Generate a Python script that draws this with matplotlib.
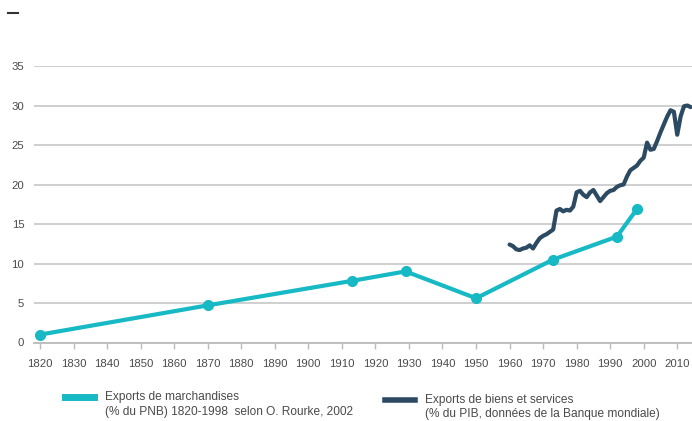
import matplotlib.pyplot as plt
from matplotlib.lines import Line2D

plt.rcParams['font.family'] = ['Liberation Sans Narrow', 'Liberation Sans', 'DejaVu Sans']

# Exports de marchandises (% du PNB), O'Rourke
years_merch = [1820, 1870, 1913, 1929, 1950, 1973, 1992, 1998]
merch = [1.0, 4.7, 7.8, 9.0, 5.6, 10.5, 13.4, 16.9]

# Exports de biens et services (% du PIB), Banque mondiale
years_wb = list(range(1960, 2015))
wb = [12.4, 12.2, 11.8, 11.7, 11.9, 12.0, 12.3, 11.9, 12.6, 13.2,
      13.5, 13.7, 14.0, 14.3, 16.7, 16.9, 16.6, 16.8, 16.7, 17.2,
      19.0, 19.2, 18.7, 18.4, 19.0, 19.3, 18.6, 17.9, 18.4, 18.9,
      19.2, 19.3, 19.7, 19.9, 20.0, 21.0, 21.8, 22.1, 22.4, 23.0,
      23.4, 25.3, 24.4, 24.5, 25.5, 26.6, 27.6, 28.6, 29.4, 29.2,
      26.3, 28.6, 29.9, 30.0, 29.8]

xticks = list(range(1820, 2011, 10))
yticks = [0, 5, 10, 15, 20, 25, 30, 35]

teal = "#17b9c4"
navy = "#2c4a62"
txt = "#4a4a4a"

fig = plt.figure(figsize=(6.92, 4.21), dpi=100)
ax = fig.add_axes([34 / 692, 1 - 342.5 / 421, 1 - 34 / 692, (342.5 - 66) / 421])

ax.plot(years_merch, merch, color=teal, lw=3, marker="o", ms=7,
        solid_capstyle="round", clip_on=False, zorder=3)
ax.plot(years_wb, wb, color=navy, lw=3, solid_joinstyle="round",
        solid_capstyle="round", zorder=3)

ax.set_xlim(1818.2, 2014.4)
ax.set_ylim(0, 35)
ax.set_xticks(xticks)
ax.set_yticks(yticks)
ax.tick_params(axis="x", length=4, width=1, color="#bbbbbb", pad=8,
               labelsize=8.2, labelcolor=txt)
ax.tick_params(axis="y", length=0, pad=7, labelsize=8.2, labelcolor=txt)
ax.grid(axis="y", color="#cccccc", lw=1.3)
ax.set_axisbelow(True)
for s in ["top", "right", "left"]:
    ax.spines[s].set_visible(False)
ax.spines["bottom"].set_color("#bbbbbb")
ax.spines["bottom"].set_linewidth(1.3)

# small dash top left
fig.add_artist(Line2D([8 / 692, 18 / 692], [1 - 13 / 421, 1 - 13 / 421],
                      color="#333333", lw=1.5))

# legend
fig.add_artist(Line2D([65 / 692, 94 / 692], [1 - 397 / 421, 1 - 397 / 421],
                      color=teal, lw=5))
fig.text(105 / 692, 1 - 404.5 / 421,
         "Exports de marchandises\n(% du PNB) 1820-1998  selon O. Rourke, 2002",
         fontsize=8.6, color=txt, va="center", ha="left", linespacing=1.25)
fig.add_artist(Line2D([385 / 692, 415 / 692], [1 - 400 / 421, 1 - 400 / 421],
                      color=navy, lw=4))
fig.text(425 / 692, 1 - 407 / 421,
         "Exports de biens et services\n(% du PIB, données de la Banque mondiale)",
         fontsize=8.6, color=txt, va="center", ha="left", linespacing=1.25)

fig.savefig("out.png", dpi=100)
